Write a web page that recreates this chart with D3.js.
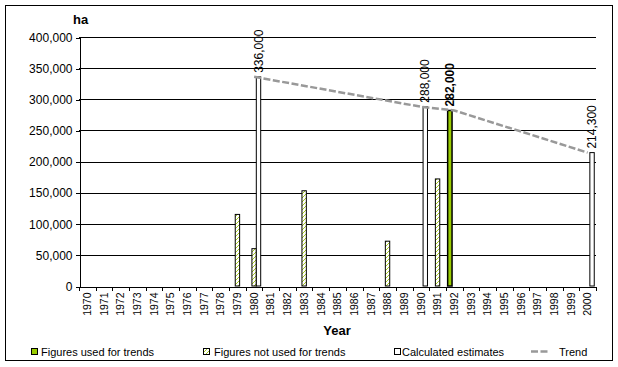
<!DOCTYPE html>
<html>
<head>
<meta charset="utf-8">
<script src="https://cdn.jsdelivr.net/npm/d3@7"></script>
<style>
  body { margin: 0; background: #fff; }
  svg { display: block; font-family: "Liberation Sans", Arial, sans-serif; }
  .axis path, .axis line { stroke: #000; shape-rendering: crispEdges; }
  .axis text { fill: #000; }
</style>
</head>
<body>
<svg id="chart" width="618" height="367"></svg>
<script>
// categories on the x axis
var years = ['1970', '1971', '1972', '1973', '1974', '1975', '1976', '1977',
             '1978', '1979', '1980', '1981', '1982', '1983', '1984', '1985',
             '1986', '1987', '1988', '1989', '1990', '1991', '1992', '1993',
             '1994', '1995', '1996', '1997', '1998', '1999', '2000'];

// figures used for trends
var usedYears = ['1992'];
var usedValues = [282000];

// figures not used for trends
var notUsedYears = ['1979', '1980', '1983', '1988', '1991'];
var notUsedValues = [115000, 60000, 153000, 72000, 172000];

// calculated estimates
var calcYears = ['1980', '1990', '2000'];
var calcValues = [336000, 288000, 214300];

// trend line
var trendYears = ['1980', '1990', '1992', '2000'];
var trendValues = [336000, 288000, 282000, 214300];

var yTicks = [0, 50000, 100000, 150000, 200000, 250000, 300000, 350000, 400000];
var seriesNames = ['used', 'notUsed', 'calc'];

var svg = d3.select('#chart');

var plotLeft = 79, plotRight = 596, plotTop = 37, plotBottom = 286;

var x = d3.scaleBand().domain(years).range([plotLeft, plotRight]);
var slot = d3.scaleBand().domain(seriesNames).range([0, x.bandwidth()])
    .paddingInner(0).paddingOuter(0.4);
var y = d3.scaleLinear().domain([0, 400000]).range([plotBottom, plotTop]);

// hatch for the "not used" bars, drawn pixel by pixel so it stays crisp
var defs = svg.append('defs');
var pat = defs.append('pattern')
    .attr('id', 'hatch')
    .attr('patternUnits', 'userSpaceOnUse')
    .attr('width', 4)
    .attr('height', 4);
pat.append('rect').attr('width', 4).attr('height', 4).attr('fill', '#fff');
[[3, 0], [2, 1], [1, 2], [0, 3]].forEach(function(p) {
  pat.append('rect')
      .attr('x', p[0]).attr('y', p[1])
      .attr('width', 1).attr('height', 1)
      .attr('fill', '#a8cc20');
});

// outer frame
svg.append('rect')
    .attr('x', 5.5).attr('y', 5.5)
    .attr('width', 607).attr('height', 355)
    .attr('fill', 'none')
    .attr('stroke', '#000');

// gridlines
svg.append('g').selectAll('line')
    .data(yTicks.filter(function(d) { return d > 0; }))
  .enter().append('line')
    .attr('x1', plotLeft).attr('x2', plotRight)
    .attr('y1', function(d) { return Math.round(y(d)) + 0.5; })
    .attr('y2', function(d) { return Math.round(y(d)) + 0.5; })
    .attr('stroke', '#000')
    .attr('shape-rendering', 'crispEdges');

// y axis
var yAxis = svg.append('g')
    .attr('class', 'axis')
    .attr('transform', 'translate(' + (plotLeft + 0.5) + ',0.5)')
    .call(d3.axisLeft(y).tickValues(yTicks).tickSize(4).tickSizeOuter(0)
          .tickFormat(d3.format(',')));
yAxis.selectAll('text').attr('font-size', 12).attr('x', -7)
    .attr('font-family', '"Liberation Sans", Arial, sans-serif');

// x axis
var xAxis = svg.append('g')
    .attr('class', 'axis')
    .attr('transform', 'translate(0,' + (plotBottom + 0.5) + ')')
    .call(d3.axisBottom(x).tickSize(0).tickSizeOuter(0));
xAxis.selectAll('.tick line').remove();
xAxis.selectAll('.tick text')
    .attr('font-size', 10.5)
    .attr('font-family', '"Liberation Sans", Arial, sans-serif')
    .attr('text-anchor', 'end')
    .attr('transform', 'rotate(-90)')
    .attr('x', -6)
    .attr('y', 0)
    .attr('dy', '0.35em');
// ticks between categories
xAxis.selectAll('line.cat')
    .data(years.concat(['end']))
  .enter().append('line')
    .attr('class', 'cat')
    .attr('x1', function(d) { return d === 'end' ? plotRight + 0.5 : Math.round(x(d)) + 0.5; })
    .attr('x2', function(d) { return d === 'end' ? plotRight + 0.5 : Math.round(x(d)) + 0.5; })
    .attr('y1', 0).attr('y2', 4);

function drawBars(yrs, vals, series, fill, strokeWidth) {
  var data = yrs.map(function(d, i) { return {year: d, value: vals[i]}; });
  svg.append('g').selectAll('rect')
      .data(data)
    .enter().append('rect')
      .attr('x', function(d) { return x(d.year) + slot(series); })
      .attr('y', function(d) { return y(d.value); })
      .attr('width', slot.bandwidth())
      .attr('height', function(d) { return plotBottom - y(d.value); })
      .attr('fill', fill)
      .attr('stroke', '#000')
      .attr('stroke-width', strokeWidth);
  return data;
}

function drawLabels(data, series, weight) {
  svg.append('g').selectAll('text')
      .data(data)
    .enter().append('text')
      .attr('transform', function(d) {
        return 'translate(' + (x(d.year) + slot(series) + slot.bandwidth() / 2) + ',' +
            (y(d.value) - 4) + ') rotate(-90)';
      })
      .attr('dy', '0.35em')
      .attr('font-size', 12)
      .attr('font-weight', weight)
      .text(function(d) { return d3.format(',')(d.value); });
}

drawBars(notUsedYears, notUsedValues, 'notUsed', 'url(#hatch)', 1);
var calcData = drawBars(calcYears, calcValues, 'calc', '#fff', 1);
var usedData = drawBars(usedYears, usedValues, 'used', '#99cc00', 1.5);

// trend
var trendData = trendYears.map(function(d, i) { return {year: d, value: trendValues[i]}; });
svg.append('path')
    .datum(trendData)
    .attr('d', d3.line()
        .x(function(d) { return x(d.year) + x.bandwidth() / 2; })
        .y(function(d) { return y(d.value); }))
    .attr('fill', 'none')
    .attr('stroke', '#999')
    .attr('stroke-width', 2.5)
    .attr('stroke-dasharray', '7,2.5');

drawLabels(calcData, 'calc', 'normal');
drawLabels(usedData, 'used', 'bold');

// axis titles
svg.append('text')
    .attr('x', 73).attr('y', 24)
    .attr('font-size', 13).attr('font-weight', 'bold')
    .text('ha');
svg.append('text')
    .attr('x', 337).attr('y', 335)
    .attr('text-anchor', 'middle')
    .attr('font-size', 13).attr('font-weight', 'bold')
    .text('Year');

// legend
var legend = svg.append('g').attr('font-size', 11);
var legendItems = [
  {label: 'Figures used for trends', fill: '#99cc00', sx: 31, tx: 41},
  {label: 'Figures not used for trends', fill: 'url(#hatch)', sx: 203, tx: 214},
  {label: 'Calculated estimates', fill: '#fff', sx: 394, tx: 402}
];
legendItems.forEach(function(d) {
  legend.append('rect')
      .attr('x', d.sx + 0.5).attr('y', 348.5)
      .attr('width', 6).attr('height', 6)
      .attr('fill', d.fill)
      .attr('stroke', '#000');
  legend.append('text')
      .attr('x', d.tx).attr('y', 356)
      .text(d.label);
});
legend.append('line')
    .attr('x1', 531).attr('x2', 549)
    .attr('y1', 351.5).attr('y2', 351.5)
    .attr('stroke', '#999')
    .attr('stroke-width', 2.5)
    .attr('stroke-dasharray', '7,2.5');
legend.append('text')
    .attr('x', 559).attr('y', 356)
    .text('Trend');
</script>
</body>
</html>
